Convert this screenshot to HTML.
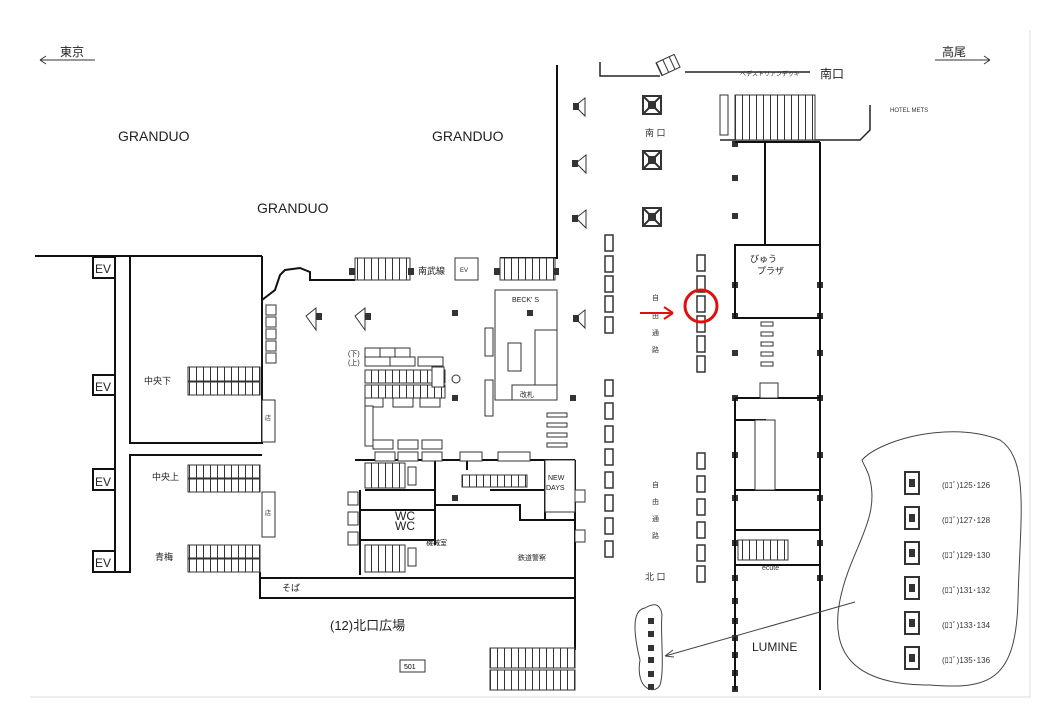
<!DOCTYPE html>
<html><head><meta charset="utf-8"><style>
html,body{margin:0;padding:0;background:#fff;}
svg{display:block;font-family:"Liberation Sans","Noto Sans CJK JP",sans-serif;}
</style></head><body>
<svg width="1040" height="720" viewBox="0 0 1040 720" xmlns="http://www.w3.org/2000/svg">
<defs>
<pattern id="st" width="7" height="10" patternUnits="userSpaceOnUse"><rect width="7" height="10" fill="#fff"/><line x1="0.5" y1="0" x2="0.5" y2="10" stroke="#333" stroke-width="1"/></pattern>
</defs>
<rect width="1040" height="720" fill="#fff"/>
<path d="M30 697 H1030 V30" fill="none" stroke="#ddd" stroke-width="1"/>

<g stroke="#333" fill="none" stroke-width="1">
<path d="M40 60 H95 M40 60 l6 -4 M40 60 l6 4"/>
<path d="M935 60 H990 M990 60 l-6 -4 M990 60 l-6 4"/>
</g>
<text x="60" y="56" font-size="12" fill="#222">東京</text>
<text x="942" y="56" font-size="12" fill="#222">高尾</text>
<text x="118" y="141" font-size="14" fill="#222">GRANDUO</text>
<text x="432" y="141" font-size="14" fill="#222">GRANDUO</text>
<text x="257" y="213" font-size="14" fill="#222">GRANDUO</text>

<g stroke="#111" fill="none" stroke-width="2">
<path d="M35 256 H262"/>
<path d="M115 256 V572 H130 V455 H262"/>
<path d="M130 256 V443 H262 V256"/>
<path d="M262 300 L275 290 L280 275 L285 270 L300 268 L310 272 V280 H355"/>
<path d="M557 65 V258 H500"/>
<path d="M260 572 V598 H575 M260 578 H575"/>
<path d="M575 460 V650"/>
<path d="M355 460 H575"/>
<path d="M435 460 V505 H520 V520 H575"/>
<path d="M365 490 H435 M360 490 V575 M360 510 H435 M360 540 H435 M435 490 V545"/>
<path d="M545 460 V490 H575 M545 490 V520"/>
<path d="M490 490 H545"/>
<path d="M467 452 V470"/>
</g>
<g stroke="#111" fill="#fff" stroke-width="2">
<rect x="93" y="257" width="22" height="21"/>
<rect x="93" y="375" width="22" height="20"/>
<rect x="93" y="469" width="22" height="21"/>
<rect x="93" y="551" width="22" height="21"/>
</g>
<g font-size="12" fill="#222">
<text x="95" y="273">EV</text><text x="95" y="391">EV</text><text x="95" y="486">EV</text><text x="95" y="567">EV</text>
</g>
<g stroke="#333" stroke-width="1">
<rect x="188" y="367" width="72" height="14" fill="url(#st)"/>
<rect x="188" y="382" width="72" height="13" fill="url(#st)"/>
<rect x="188" y="465" width="72" height="13" fill="url(#st)"/>
<rect x="188" y="479" width="72" height="13" fill="url(#st)"/>
<rect x="188" y="545" width="72" height="13" fill="url(#st)"/>
<rect x="188" y="559" width="72" height="13" fill="url(#st)"/>
<rect x="262" y="400" width="13" height="42" fill="#fff"/>
<rect x="262" y="492" width="13" height="45" fill="#fff"/>
<rect x="355" y="258" width="55" height="22" fill="url(#st)"/>
<rect x="500" y="258" width="55" height="22" fill="url(#st)"/>
<rect x="455" y="258" width="23" height="22" fill="#fff"/>
<rect x="365" y="463" width="40" height="25" fill="url(#st)"/>
<rect x="365" y="545" width="40" height="27" fill="url(#st)"/>
<rect x="462" y="475" width="65" height="12" fill="url(#st)"/>
<rect x="490" y="648" width="85" height="20" fill="url(#st)"/>
<rect x="490" y="670" width="85" height="20" fill="url(#st)"/>
<rect x="365" y="385" width="80" height="13" fill="url(#st)"/>
<rect x="365" y="370" width="80" height="13" fill="url(#st)"/>
</g>
<g font-size="9" fill="#222">
<text x="144" y="384">中央下</text><text x="152" y="480">中央上</text><text x="155" y="560">青梅</text>
<text x="265" y="420" font-size="6">店</text><text x="265" y="515" font-size="6">店</text>
<text x="418" y="274">南武線</text><text x="460" y="272" font-size="6">EV</text>
<text x="282" y="591">そば</text>
<text x="330" y="630" font-size="13">(12)北口広場</text>
</g>
<rect x="400" y="660" width="25" height="12" fill="#fff" stroke="#333"/>
<text x="404" y="669" font-size="7">501</text>

<g stroke="#333" fill="#fff" stroke-width="1">
<rect x="365" y="348" width="15" height="9"/><rect x="380" y="348" width="15" height="9"/><rect x="395" y="348" width="15" height="9"/>
<rect x="365" y="357" width="25" height="9"/><rect x="390" y="357" width="25" height="9"/><rect x="418" y="357" width="25" height="9"/>
<rect x="432" y="367" width="12" height="20"/>
<rect x="365" y="398" width="18" height="9"/><rect x="393" y="398" width="20" height="9"/><rect x="420" y="398" width="20" height="9"/>
<rect x="365" y="406" width="8" height="40"/>
<rect x="373" y="440" width="20" height="9"/><rect x="398" y="440" width="20" height="9"/><rect x="422" y="440" width="20" height="9"/>
<rect x="375" y="452" width="20" height="9"/><rect x="398" y="452" width="20" height="9"/><rect x="422" y="452" width="20" height="9"/>
<rect x="460" y="452" width="22" height="9"/><rect x="498" y="452" width="32" height="9"/>
<rect x="348" y="492" width="10" height="13"/><rect x="348" y="512" width="10" height="13"/><rect x="348" y="532" width="10" height="13"/>
<rect x="408" y="467" width="8" height="18"/><rect x="408" y="548" width="8" height="18"/>
<rect x="485" y="328" width="8" height="28"/><rect x="485" y="380" width="8" height="36"/>
<rect x="495" y="290" width="62" height="110"/>
<rect x="508" y="343" width="13" height="28"/>
<rect x="535" y="330" width="22" height="55"/>
<rect x="512" y="385" width="45" height="15"/>
<rect x="545" y="460" width="30" height="52"/>
<rect x="575" y="490" width="10" height="12"/><rect x="575" y="530" width="10" height="12"/>
<rect x="266" y="305" width="10" height="10"/><rect x="266" y="317" width="10" height="10"/><rect x="266" y="329" width="10" height="10"/><rect x="266" y="341" width="10" height="10"/><rect x="266" y="353" width="10" height="10"/>
</g>
<g font-size="7" fill="#222">
<text x="512" y="302">BECK' S</text><text x="520" y="397">改札</text>
<text x="548" y="480">NEW</text><text x="546" y="490">DAYS</text>
<text x="395" y="520" font-size="12">WC</text><text x="395" y="530" font-size="12">WC</text>
<text x="426" y="545">機械室</text><text x="518" y="560">鉄道警察</text>
<text x="348" y="356">(下)</text><text x="348" y="365">(上)</text>
</g>
<circle cx="456" cy="379" r="4" fill="none" stroke="#333"/>
<!-- speakers -->
<g fill="#fff" stroke="#333" stroke-width="1">
<path d="M306 316 l10 -8 v22 z"/><path d="M355 316 l10 -8 v22 z"/>
<path d="M576 218 l10 -8 v18 z"/><path d="M576 163 l10 -8 v18 z"/><path d="M575 106 l10 -8 v18 z"/><path d="M575 318 l10 -8 v18 z"/>
</g>
<g fill="#333">
<rect x="316" y="313" width="6" height="7"/><rect x="365" y="313" width="6" height="7"/>
<rect x="572" y="215" width="6" height="7"/><rect x="572" y="160" width="6" height="7"/><rect x="573" y="103" width="6" height="7"/><rect x="573" y="315" width="6" height="7"/>
</g>
<g fill="#333">
<rect x="349" y="268" width="6" height="7"/><rect x="408" y="268" width="6" height="7"/><rect x="494" y="268" width="6" height="7"/><rect x="553" y="268" width="6" height="7"/>
<rect x="452" y="310" width="6" height="6"/><rect x="527" y="310" width="6" height="6"/><rect x="452" y="395" width="6" height="6"/>
<rect x="570" y="395" width="6" height="6"/><rect x="452" y="495" width="6" height="6"/>
<rect x="732" y="141" width="6" height="6"/><rect x="732" y="175" width="6" height="6"/><rect x="732" y="213" width="6" height="6"/>
<rect x="732" y="282" width="6" height="6"/><rect x="817" y="282" width="6" height="6"/>
<rect x="732" y="313" width="6" height="6"/><rect x="817" y="313" width="6" height="6"/>
<rect x="732" y="350" width="6" height="6"/><rect x="817" y="350" width="6" height="6"/>
<rect x="732" y="395" width="6" height="6"/><rect x="817" y="395" width="6" height="6"/>
<rect x="732" y="452" width="6" height="6"/><rect x="817" y="452" width="6" height="6"/>
<rect x="732" y="495" width="6" height="6"/><rect x="817" y="495" width="6" height="6"/>
<rect x="732" y="540" width="6" height="6"/><rect x="817" y="540" width="6" height="6"/>
<rect x="732" y="575" width="6" height="6"/><rect x="817" y="575" width="6" height="6"/>
<rect x="732" y="598" width="6" height="6"/><rect x="732" y="618" width="6" height="6"/><rect x="732" y="635" width="6" height="6"/><rect x="732" y="652" width="6" height="6"/><rect x="732" y="670" width="6" height="6"/><rect x="732" y="686" width="6" height="6"/>
<rect x="648" y="618" width="6" height="6"/><rect x="648" y="631" width="6" height="6"/><rect x="648" y="645" width="6" height="6"/><rect x="648" y="657" width="6" height="6"/><rect x="648" y="671" width="6" height="6"/><rect x="648" y="684" width="6" height="6"/>
</g>
<g stroke="#333" fill="#fff" stroke-width="1.5">
<rect x="605" y="235" width="8" height="16"/><rect x="605" y="256" width="8" height="16"/><rect x="605" y="276" width="8" height="16"/><rect x="605" y="296" width="8" height="16"/><rect x="605" y="317" width="8" height="16"/>
<rect x="605" y="380" width="8" height="16"/><rect x="605" y="403" width="8" height="16"/><rect x="605" y="426" width="8" height="16"/><rect x="605" y="449" width="8" height="16"/><rect x="605" y="472" width="8" height="16"/><rect x="605" y="495" width="8" height="16"/><rect x="605" y="518" width="8" height="16"/><rect x="605" y="541" width="8" height="16"/>
<rect x="697" y="255" width="8" height="16"/><rect x="697" y="276" width="8" height="16"/><rect x="697" y="296" width="8" height="16"/><rect x="697" y="316" width="8" height="16"/><rect x="697" y="336" width="8" height="16"/><rect x="697" y="356" width="8" height="16"/>
<rect x="697" y="453" width="8" height="16"/><rect x="697" y="476" width="8" height="16"/><rect x="697" y="499" width="8" height="16"/><rect x="697" y="522" width="8" height="16"/><rect x="697" y="545" width="8" height="16"/><rect x="697" y="566" width="8" height="16"/>
</g>
<g font-size="7" fill="#333">
<text x="652" y="300">自</text><text x="652" y="318">由</text><text x="652" y="335">通</text><text x="652" y="352">路</text>
<text x="652" y="487">自</text><text x="652" y="504">由</text><text x="652" y="521">通</text><text x="652" y="538">路</text>
<text x="645" y="580" font-size="9">北 口</text>
<text x="645" y="136" font-size="9">南 口</text>
</g>
<g stroke="#333" stroke-width="2" fill="#fff">
<rect x="643" y="96" width="18" height="18"/><rect x="643" y="151" width="18" height="18"/><rect x="643" y="208" width="18" height="18"/>
<path d="M643 96 L661 114 M661 96 L643 114 M643 151 L661 169 M661 151 L643 169 M643 208 L661 226 M661 208 L643 226"/>
</g>
<g fill="#333"><rect x="648" y="101" width="8" height="8"/><rect x="648" y="156" width="8" height="8"/><rect x="648" y="213" width="8" height="8"/></g>
<g stroke="#222" fill="none" stroke-width="1.5">
<path d="M600 62 V76 H660 M685 72 H810"/>
<path d="M720 140 H860 L870 130 V105"/>
</g>
<rect x="658" y="58" width="20" height="14" fill="url(#st)" stroke="#333" transform="rotate(-25 668 65)"/>
<text x="740" y="76" font-size="6" fill="#333">ペデストリアンデッキ</text>
<text x="820" y="78" font-size="12" fill="#222">南口</text>
<text x="890" y="112" font-size="6" fill="#333">HOTEL METS</text>
<rect x="735" y="95" width="80" height="45" fill="url(#st)" stroke="#333"/>
<rect x="720" y="95" width="8" height="40" fill="#fff" stroke="#333"/>
<g stroke="#111" fill="none" stroke-width="2">
<path d="M765 142 V245 H820 V142 M735 142 H820"/>
<rect x="735" y="245" width="85" height="73"/>
<path d="M820 318 V690 M735 398 V690"/>
<path d="M735 398 H820 M735 398 V420 H765 V490 M735 490 H820 M735 530 H820 M735 565 H820"/>
</g>
<rect x="760" y="383" width="18" height="15" fill="#fff" stroke="#333"/>
<rect x="755" y="420" width="20" height="70" fill="#fff" stroke="#333"/>
<rect x="738" y="540" width="50" height="20" fill="url(#st)" stroke="#333"/>
<g fill="#fff" stroke="#333">
<rect x="761" y="322" width="12" height="4"/><rect x="761" y="332" width="12" height="4"/><rect x="761" y="342" width="12" height="4"/><rect x="761" y="352" width="12" height="4"/><rect x="761" y="362" width="12" height="4"/>
<rect x="547" y="413" width="20" height="4"/><rect x="547" y="423" width="20" height="4"/><rect x="547" y="433" width="20" height="4"/><rect x="547" y="443" width="20" height="4"/>
</g>
<text x="750" y="262" font-size="9" fill="#222">びゅう</text>
<text x="757" y="274" font-size="9" fill="#222">プラザ</text>
<text x="762" y="570" font-size="7" fill="#333">ecute</text>
<text x="752" y="651" font-size="12" fill="#222">LUMINE</text>
<path d="M640 313 H673 M673 313 l-9 -6 M673 313 l-9 6" stroke="#e01010" stroke-width="2" fill="none"/>
<circle cx="701" cy="306" r="16" fill="none" stroke="#e01010" stroke-width="3"/>
<path d="M645 608 C630 610 635 640 640 660 C635 690 655 695 660 685 C665 670 660 630 662 615 C660 600 650 605 645 608 Z" fill="none" stroke="#444"/>
<path d="M855 602 L665 656 M665 656 l8 -6 M665 656 l9 1" stroke="#444" fill="none"/>
<path d="M862 460 C880 440 950 420 1000 440 C1030 460 1020 520 1018 600 C1016 680 990 690 930 685 C850 685 830 650 840 600 C850 550 880 520 870 480 C868 470 865 468 862 460 Z" fill="none" stroke="#444"/>
<g stroke="#333" stroke-width="2" fill="#fff">
<rect x="905" y="472" width="14" height="22"/><rect x="905" y="507" width="14" height="22"/><rect x="905" y="542" width="14" height="22"/><rect x="905" y="577" width="14" height="22"/><rect x="905" y="612" width="14" height="22"/><rect x="905" y="647" width="14" height="22"/>
</g>
<g fill="#333">
<rect x="909" y="479" width="6" height="8"/><rect x="909" y="514" width="6" height="8"/><rect x="909" y="549" width="6" height="8"/><rect x="909" y="584" width="6" height="8"/><rect x="909" y="619" width="6" height="8"/><rect x="909" y="654" width="6" height="8"/>
</g>
<g font-size="8" fill="#333">
<text x="942" y="488">(ﾛｺﾞ)125･126</text><text x="942" y="523">(ﾛｺﾞ)127･128</text><text x="942" y="558">(ﾛｺﾞ)129･130</text><text x="942" y="593">(ﾛｺﾞ)131･132</text><text x="942" y="628">(ﾛｺﾞ)133･134</text><text x="942" y="663">(ﾛｺﾞ)135･136</text>
</g>
</svg>
</body></html>
